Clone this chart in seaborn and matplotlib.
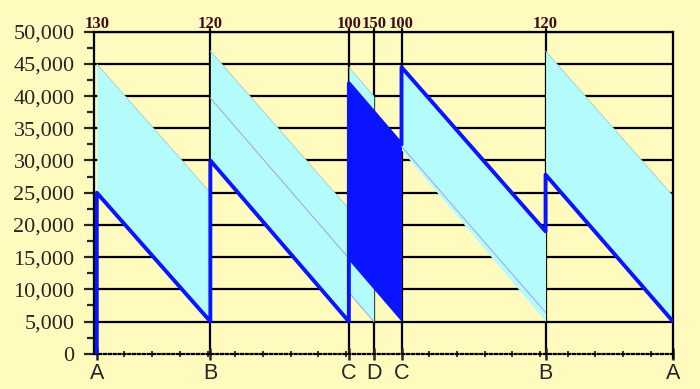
import pandas as pd
import seaborn as sns
import matplotlib.pyplot as plt
from matplotlib.ticker import FuncFormatter, MultipleLocator, FixedLocator

# event positions on the time axis
event_x = [0, 4.1, 9.1, 10.0, 11.0, 16.2, 20.8]
event_labels = ["A", "B", "C", "D", "C", "B", "A"]
top_labels = ["130", "120", "100", "150", "100", "120"]

# stock level (thick blue line)
stock_x = [0, 0, 4.1, 4.1, 9.1, 9.1, 11.0, 11.0, 16.2, 16.2, 20.8]
stock_y = [0, 25000, 5000, 30000, 5000, 42000, 32500, 44500, 19000, 27800, 5000]

# light cyan bands
band_x0 = [0, 4.1, 9.1, 11.0, 16.2]
band_x1 = [4.1, 9.1, 10.0, 16.2, 20.8]
band_top0 = [45000, 47000, 44500, 44500, 47000]
band_top1 = [25000, 22500, 40000, 19000, 24500]
band_bot0 = [25000, 30000, 9500, 31600, 27800]
band_bot1 = [5000, 5000, 5000, 5000, 5000]

# dark blue block between the two C's
block_x = [9.1, 11.0]
block_top = [42000, 32500]
block_bot = [14500, 5000]

# thin lavender lines inside the bands
faint_x0 = [4.1, 9.1, 11.0]
faint_x1 = [9.1, 10.0, 16.2]
faint_y0 = [39700, 9500, 32200]
faint_y1 = [14800, 5000, 6400]

bg = "#fffabe"
cyan = "#b4fcfc"
blue = "#0a14ff"

sns.set_style("white", rc={"axes.facecolor": bg, "figure.facecolor": bg})

fig = plt.figure(figsize=(7, 3.89), dpi=100)
ax = fig.add_axes([94 / 700, 1 - 353.7 / 389, 579 / 700, 322 / 389])

# grid lines (no solid line at zero)
for v in range(5000, 50001, 5000):
    ax.axhline(v, color="black", lw=1.6, zorder=0.5)
for x in event_x[1:-1]:
    ax.axvline(x, ymin=0, ymax=1.008, color="black", lw=1.6, zorder=0.5, clip_on=False)

for x0, x1, t0, t1, b0, b1 in zip(band_x0, band_x1, band_top0, band_top1, band_bot0, band_bot1):
    ax.fill_between([x0, x1], [b0, b1], [t0, t1], color=cyan, lw=0, zorder=1)
    ax.plot([x0, x1], [t0, t1], color="#a8c8d8", lw=0.6, zorder=1.1)

ax.fill_between(block_x, block_bot, block_top, color=blue, lw=0, zorder=2)

for x0, x1, y0, y1 in zip(faint_x0, faint_x1, faint_y0, faint_y1):
    ax.plot([x0, x1], [y0, y1], color="#a8a8e8", lw=0.8, zorder=2.5)

stock = pd.DataFrame({"x": stock_x, "y": stock_y})
sns.lineplot(data=stock, x="x", y="y", estimator=None, sort=False,
             color=blue, lw=2.8, ax=ax, zorder=3)

ax.set_xlim(-0.1, 20.8)
ax.set_ylim(0, 50000)
ax.set_xlabel("")
ax.set_ylabel("")

# y axis
ax.yaxis.set_major_locator(MultipleLocator(5000))
ax.yaxis.set_minor_locator(MultipleLocator(2500))
ax.yaxis.set_major_formatter(FuncFormatter(lambda v, p: f"{int(v):,}"))
ax.tick_params(axis="y", which="major", direction="out", length=7, width=1.6,
               pad=7, labelsize=16, left=True)
ax.tick_params(axis="y", which="minor", direction="out", length=5, width=1.6, left=True)
for t in ax.get_yticklabels():
    t.set_family("Liberation Serif")

# x axis
ax.xaxis.set_major_locator(FixedLocator(event_x))
ax.set_xticklabels(event_labels, family="Liberation Sans", fontsize=15.5)
ax.xaxis.set_minor_locator(FixedLocator(range(1, 21)))
ax.tick_params(axis="x", which="major", direction="inout", length=9, width=1.8,
               pad=2, bottom=True)
ax.tick_params(axis="x", which="minor", direction="inout", length=5, width=1.3, bottom=True)

for x, lbl in zip(event_x[:-1], top_labels):
    ax.annotate(lbl, xy=(x, 1), xycoords=("data", "axes fraction"), xytext=(0, 3),
                textcoords="offset points", ha="center", va="baseline",
                fontsize=12, fontweight="bold", family="Liberation Serif", color="#3b0d18")

for side in ["left", "right", "top"]:
    ax.spines[side].set_color("black")
    ax.spines[side].set_linewidth(1.6)
ax.spines["bottom"].set_color("black")
ax.spines["bottom"].set_linewidth(1.6)
ax.spines["bottom"].set_linestyle((0, (1, 1.2)))
ax.spines["right"].set_bounds(-600, 50000)
ax.spines["right"].set_clip_on(False)

fig.savefig("out.png", dpi=100, facecolor=bg)
